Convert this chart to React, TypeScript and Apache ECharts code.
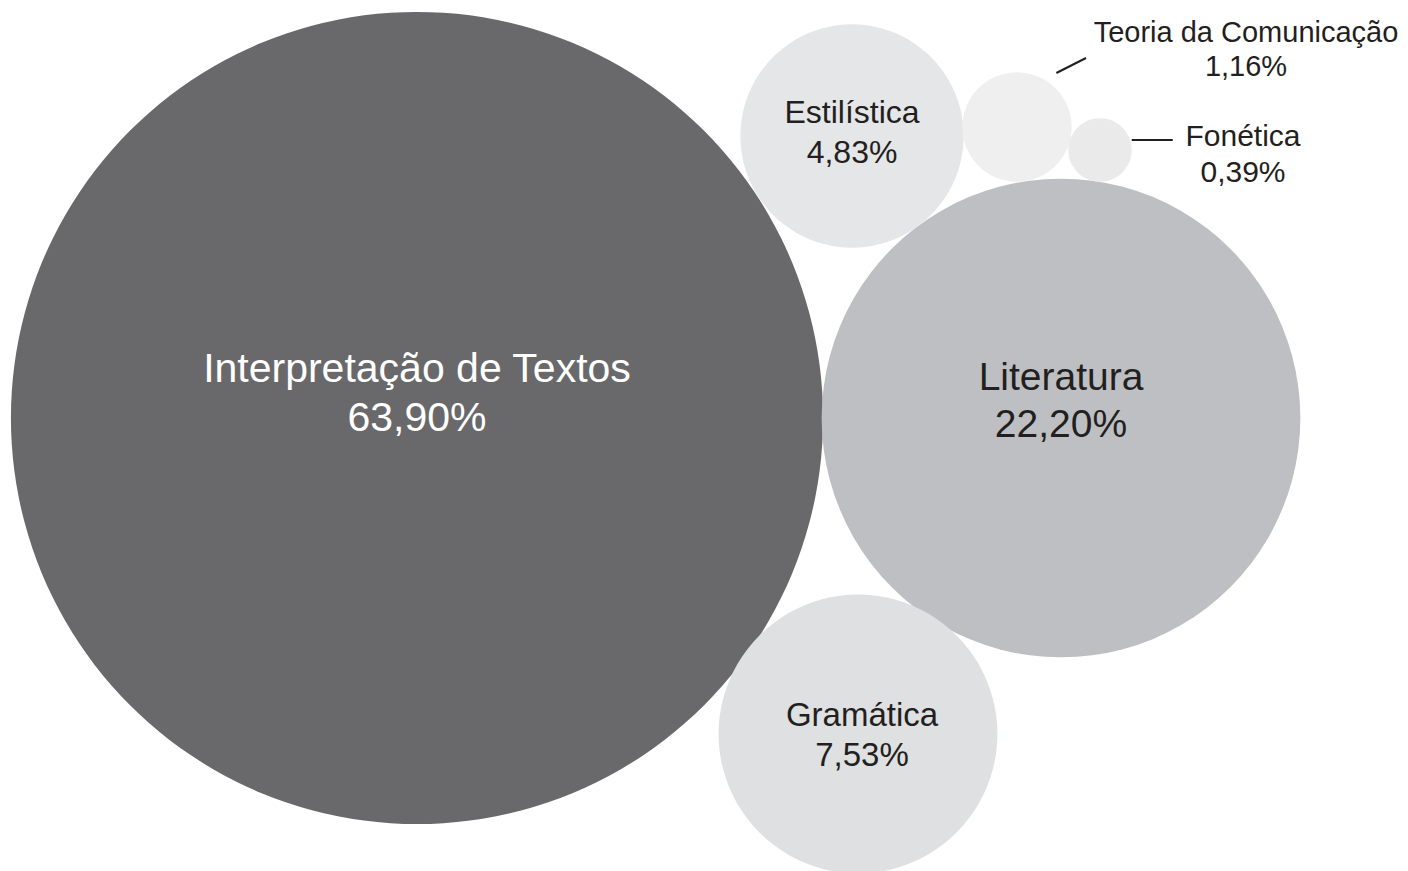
import { useEffect, useRef } from "react";
import * as echarts from "echarts";

// Data
const categories = [
  "Interpretação de Textos",
  "Literatura",
  "Gramática",
  "Estilística",
  "Teoria da Comunicação",
  "Fonética",
];
const shares = [63.9, 22.2, 7.53, 4.83, 1.16, 0.39];

// Layout (bubble centres in the page's coordinate space)
const centerX = [417, 1061, 858, 852, 1017, 1100];
const centerY = [418, 418, 734, 136, 127, 150];

// Styles
const colors = ["#69696b", "#bebfc2", "#dfe0e2", "#e5e6e7", "#efefef", "#eaeaea"];
const labelColors = ["#ffffff", "#231f20", "#231f20", "#231f20", "#231f20", "#231f20"];
const fontSizes = [41, 39, 33, 32, 29, 30];
const lineHeights = [49, 47, 40, 40, 34, 36];
const labelOffsets: [number, number][] = [
  [0, -26],
  [0, -18],
  [4, 0],
  [0, -4],
  [229, -78],
  [143, 3],
];

const SIZE_K = 101.6; // diameter per sqrt(percentage)
const W = 1408;
const H = 871;

const fmt = (v: number) => v.toFixed(2).replace(".", ",") + "%";

export default function App() {
  const ref = useRef<HTMLDivElement>(null);
  useEffect(() => {
    if (!ref.current) return;
    const chart = echarts.init(ref.current, null, { renderer: "svg" });
    const data = categories.map((name, i) => ({
      name,
      value: [centerX[i], centerY[i], shares[i]],
      itemStyle: { color: colors[i], opacity: 1 },
      label: {
        show: true,
        position: "inside",
        offset: labelOffsets[i],
        color: labelColors[i],
        fontSize: fontSizes[i],
        lineHeight: lineHeights[i],
        fontFamily: "Liberation Sans, Arial, Helvetica, sans-serif",
        align: "center",
        verticalAlign: "middle",
        formatter: () => `${name}\n${fmt(shares[i])}`,
      },
    }));

    // leader lines for the two small outside labels
    const rT = (SIZE_K * Math.sqrt(shares[4])) / 2;
    const rF = (SIZE_K * Math.sqrt(shares[5])) / 2;
    const graphic = [
      {
        type: "line",
        shape: {
          x1: centerX[4] + rT * 0.72,
          y1: centerY[4] - 54,
          x2: centerX[4] + 69,
          y2: centerY[4] - 69,
        },
        style: { stroke: "#231f20", lineWidth: 2 },
        z: 10,
      },
      {
        type: "line",
        shape: {
          x1: centerX[5] + rF,
          y1: centerY[5] - 10,
          x2: centerX[5] + rF + 41,
          y2: centerY[5] - 10,
        },
        style: { stroke: "#231f20", lineWidth: 2 },
        z: 10,
      },
    ];

    chart.setOption({
      animation: false,
      grid: { left: 0, right: 0, top: 0, bottom: 0 },
      xAxis: { type: "value", min: 0, max: W, show: false },
      yAxis: { type: "value", min: 0, max: H, inverse: true, show: false },
      graphic,
      series: [
        {
          type: "scatter",
          silent: true,
          symbol: "circle",
          symbolSize: (val: number[]) => SIZE_K * Math.sqrt(val[2]),
          emphasis: { disabled: true },
          data,
        },
      ],
    });
    return () => chart.dispose();
  }, []);
  return (
    <div
      ref={ref}
      style={{ position: "absolute", left: 0, top: 0, width: W, height: H, background: "#fff" }}
    />
  );
}
